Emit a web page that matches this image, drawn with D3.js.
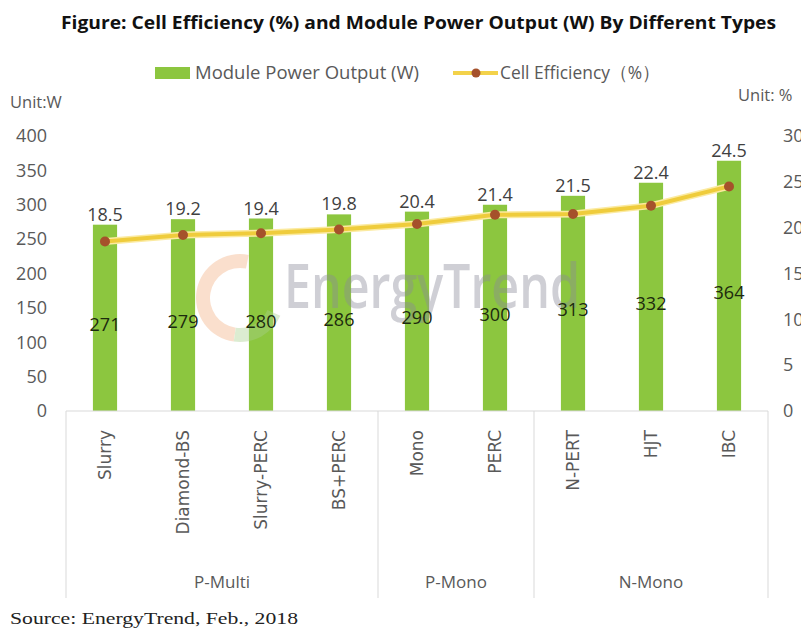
<!DOCTYPE html>
<html>
<head>
<meta charset="utf-8">
<script src="https://cdn.jsdelivr.net/npm/d3@7"></script>
<style>
  body { margin: 0; background: #fff; }
</style>
</head>
<body>
<div id="viz"></div>
<script>
// data
var types = ["Slurry", "Diamond-BS", "Slurry-PERC", "BS+PERC", "Mono", "PERC", "N-PERT", "HJT", "IBC"];
var groups = ["P-Multi", "P-Multi", "P-Multi", "P-Multi", "P-Mono", "P-Mono", "N-Mono", "N-Mono", "N-Mono"];
var power = [271, 279, 280, 286, 290, 300, 313, 332, 364];
var efficiency = [18.5, 19.2, 19.4, 19.8, 20.4, 21.4, 21.5, 22.4, 24.5];
var leftTicks = [0, 50, 100, 150, 200, 250, 300, 350, 400];
var rightTicks = [0, 5, 10, 15, 20, 25, 30];

var W = 801, H = 629;
var svg = d3.select("#viz").append("svg")
    .attr("width", W)
    .attr("height", H)
    .attr("font-family", "'Open Sans', sans-serif");

var x0 = 66, x1 = 768, yTop = 136, yBase = 411;
var green = "#8cc63f", dot = "#a5512b", gray = "#595959";

var x = d3.scaleBand().domain(types).range([x0, x1]).paddingInner(0.69).paddingOuter(0.345);
var yL = d3.scaleLinear().domain([0, 400]).range([yBase, yTop]);
var yR = d3.scaleLinear().domain([0, 30]).range([yBase, yTop]);

// title
svg.append("text")
    .attr("x", 61).attr("y", 29)
    .attr("font-size", "18px")
    .attr("font-weight", "bold")
    .attr("fill", "#111")
    .attr("textLength", 715)
    .attr("lengthAdjust", "spacingAndGlyphs")
    .text("Figure: Cell Efficiency (%) and Module Power Output (W) By Different Types");

// legend
svg.append("rect").attr("x", 155).attr("y", 67).attr("width", 35).attr("height", 12).attr("fill", green);
svg.append("text").attr("x", 195).attr("y", 79).attr("font-size", "18.5px").attr("fill", gray)
    .text("Module Power Output (W)");
svg.append("line").attr("x1", 453).attr("x2", 498).attr("y1", 73).attr("y2", 73)
    .attr("stroke", "#f3d24a").attr("stroke-width", 4);
svg.append("circle").attr("cx", 476).attr("cy", 73).attr("r", 4.5).attr("fill", dot);
svg.append("text").attr("x", 500).attr("y", 79).attr("font-size", "18.5px").attr("fill", gray)
    .attr("textLength", 160).attr("lengthAdjust", "spacingAndGlyphs")
    .text("Cell Efficiency（%）");

// units
svg.append("text").attr("x", 10).attr("y", 108).attr("font-size", "16.5px").attr("fill", gray).text("Unit:W");
svg.append("text").attr("x", 738).attr("y", 101).attr("font-size", "16.5px").attr("fill", gray).text("Unit: %");

// left axis
var axL = svg.append("g").call(d3.axisLeft(yL).tickValues(leftTicks).tickSize(0).tickPadding(0))
    .attr("transform", "translate(47,0)");
axL.select(".domain").remove();
axL.selectAll("text").attr("font-size", "18px").attr("fill", gray)
    .attr("font-family", "'Open Sans', sans-serif");

// right axis (cut at the edge like the original)
var axR = svg.append("g").call(d3.axisRight(yR).tickValues(rightTicks).tickSize(0).tickPadding(0))
    .attr("transform", "translate(783,0)");
axR.select(".domain").remove();
axR.selectAll("text").attr("font-size", "18px").attr("fill", gray)
    .attr("font-family", "'Open Sans', sans-serif");

// bars
svg.selectAll("rect.bar")
    .data(power)
    .enter()
    .append("rect")
    .attr("class", "bar")
    .attr("x", function(d, i) { return x(types[i]); })
    .attr("y", function(d) { return yL(d); })
    .attr("width", x.bandwidth())
    .attr("height", function(d) { return yBase - yL(d); })
    .attr("fill", green);

// watermark, sits over the bars
var wm = svg.append("g").attr("opacity", 0.4);
wm.append("path")
    .attr("transform", "translate(240,298)")
    .attr("d", d3.arc()({innerRadius: 30, outerRadius: 44, startAngle: 0.2, endAngle: -3.0}))
    .attr("fill", "#f4b183");
wm.append("path")
    .attr("transform", "translate(240,298)")
    .attr("d", d3.arc()({innerRadius: 30, outerRadius: 44, startAngle: -3.0, endAngle: -4.3}))
    .attr("fill", "#a9d18e");
wm.append("text").attr("x", 284).attr("y", 308).attr("font-size", "62px").attr("font-weight", "600")
    .attr("fill", "#8a8a99")
    .attr("textLength", 296).attr("lengthAdjust", "spacingAndGlyphs")
    .text("EnergyTrend");

// power labels in middle of bars
svg.selectAll("text.pw")
    .data(power)
    .enter()
    .append("text")
    .attr("class", "pw")
    .attr("x", function(d, i) { return x(types[i]) + x.bandwidth() / 2; })
    .attr("y", function(d) { return (yL(d) + yBase) / 2 + 13; })
    .attr("text-anchor", "middle")
    .attr("font-size", "18px")
    .attr("fill", "#1c2a0e")
    .text(function(d) { return d; });

// efficiency line
var line = d3.line()
    .x(function(d, i) { return x(types[i]) + x.bandwidth() / 2; })
    .y(function(d) { return yR(d); });

svg.append("path")
    .attr("d", line(efficiency))
    .attr("fill", "none")
    .attr("stroke", "#fbeaa0")
    .attr("stroke-width", 7);
svg.append("path")
    .attr("d", line(efficiency))
    .attr("fill", "none")
    .attr("stroke", "#efcc3c")
    .attr("stroke-width", 4);

svg.selectAll("circle.pt")
    .data(efficiency)
    .enter()
    .append("circle")
    .attr("class", "pt")
    .attr("cx", function(d, i) { return x(types[i]) + x.bandwidth() / 2; })
    .attr("cy", function(d) { return yR(d); })
    .attr("r", 5)
    .attr("fill", dot);

// efficiency labels above bars
svg.selectAll("text.ef")
    .data(efficiency)
    .enter()
    .append("text")
    .attr("class", "ef")
    .attr("x", function(d, i) { return x(types[i]) + x.bandwidth() / 2; })
    .attr("y", function(d, i) { return yL(power[i]) - 4; })
    .attr("text-anchor", "middle")
    .attr("font-size", "18px")
    .attr("fill", "#404040")
    .text(function(d) { return d; });

// category axis box
var gridColor = "#d9d9d9";
svg.append("line").attr("x1", x0).attr("x2", x1).attr("y1", yBase).attr("y2", yBase)
    .attr("stroke", gridColor).attr("stroke-width", 1.2);

var groupNames = [];
groups.forEach(function(g, i) {
    if (!groupNames.length || groupNames[groupNames.length - 1].name !== g) {
        groupNames.push({name: g, start: i, end: i});
    } else {
        groupNames[groupNames.length - 1].end = i;
    }
});
var step = x.step();
var edges = [x0];
groupNames.forEach(function(g) { edges.push(x0 + (g.end + 1) * step); });
edges[edges.length - 1] = x1;
svg.selectAll("line.div")
    .data(edges)
    .enter()
    .append("line")
    .attr("class", "div")
    .attr("x1", function(d) { return d; })
    .attr("x2", function(d) { return d; })
    .attr("y1", yBase)
    .attr("y2", 598)
    .attr("stroke", gridColor);

// rotated type labels
svg.selectAll("text.cat")
    .data(types)
    .enter()
    .append("text")
    .attr("class", "cat")
    .attr("transform", function(d) {
        return "translate(" + (x(d) + x.bandwidth() / 2 + 6) + ",430) rotate(-90)";
    })
    .attr("text-anchor", "end")
    .attr("font-size", "17px")
    .attr("font-family", "'DejaVu Sans', sans-serif")
    .attr("fill", gray)
    .text(function(d) { return d; });

svg.selectAll("text.grp")
    .data(groupNames)
    .enter()
    .append("text")
    .attr("class", "grp")
    .attr("x", function(d) { return x0 + (d.start + d.end + 1) / 2 * step; })
    .attr("y", 588)
    .attr("text-anchor", "middle")
    .attr("font-size", "17px")
    .attr("fill", gray)
    .text(function(d) { return d.name; });

// source
svg.append("text").attr("x", 10).attr("y", 624)
    .attr("font-size", "16px")
    .attr("font-family", "'Liberation Serif', serif")
    .attr("fill", "#222")
    .attr("textLength", 288).attr("lengthAdjust", "spacingAndGlyphs")
    .text("Source: EnergyTrend, Feb., 2018");
</script>
</body>
</html>
